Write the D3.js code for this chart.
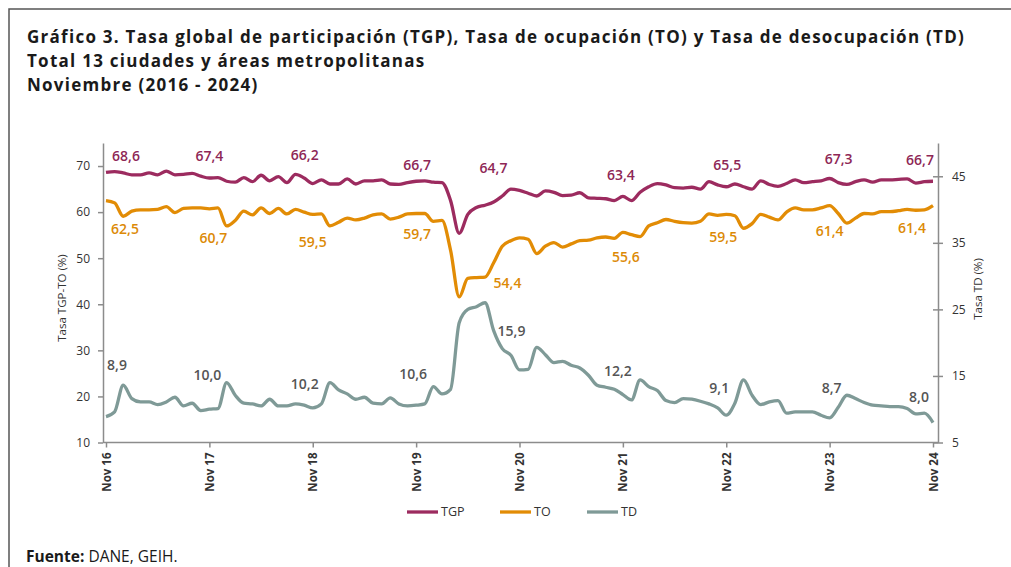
<!DOCTYPE html>
<html>
<head>
<meta charset="utf-8">
<script src="https://cdn.jsdelivr.net/npm/d3@7"></script>
<style>
  body { margin: 0; background: #fff; }
  text { font-family: "Open Sans", "Noto Sans", sans-serif; }
</style>
</head>
<body>
<div id="chart"></div>
<script>
// Series values, monthly from Nov 2016 to Nov 2024 (97 points)
var tgp = [68.6, 68.8, 68.5, 68.1, 68.1, 68.5, 68.1, 68.9, 68.1, 68.2, 68.4, 67.8,
  67.4, 67.5, 66.7, 66.5, 67.5, 66.6, 68.0, 66.8, 67.7, 66.4, 68.2, 67.4,
  66.2, 67.0, 66.1, 66.1, 67.2, 66.1, 66.8, 66.8, 67.0, 66.1, 66.0, 66.4,
  66.7, 66.8, 66.5, 66.4, 62.5, 55.4, 59.5, 61.0, 61.5, 62.2, 63.5, 65.0,
  64.7, 64.1, 63.5, 64.6, 64.3, 63.6, 63.7, 64.2, 63.1, 63.0, 62.9, 62.5,
  63.4, 62.5, 64.3, 65.5, 66.2, 65.9, 65.3, 65.2, 65.4, 65.0, 66.6, 65.9,
  65.5, 66.1, 65.5, 65.0, 66.8, 66.0, 65.6, 66.2, 67.0, 66.4, 66.6, 66.8,
  67.3, 66.4, 66.0, 66.6, 67.0, 66.5, 67.0, 67.0, 67.1, 67.2, 66.3, 66.6, 66.7];

var to = [62.5, 62.0, 59.1, 60.2, 60.5, 60.5, 60.6, 61.2, 59.9, 60.8, 60.9, 60.9,
  60.7, 60.9, 57.0, 58.2, 60.2, 59.4, 60.9, 59.7, 60.8, 59.6, 60.6, 60.0,
  59.5, 59.6, 57.0, 57.8, 58.7, 58.3, 58.7, 59.4, 59.6, 58.5, 58.9, 59.6,
  59.7, 59.7, 58.0, 58.2, 51.7, 41.6, 45.6, 45.8, 45.9, 49.0, 52.6, 53.8,
  54.4, 54.1, 51.0, 52.6, 53.4, 52.4, 53.1, 53.8, 53.9, 54.4, 54.6, 54.3,
  55.6, 55.1, 54.7, 57.0, 57.7, 58.4, 58.0, 57.7, 57.6, 58.0, 59.6, 59.3,
  59.5, 59.2, 56.5, 57.5, 59.5, 58.9, 58.3, 60.0, 60.9, 60.5, 60.5, 60.9,
  61.4, 59.7, 57.6, 58.7, 59.7, 59.6, 60.1, 60.1, 60.3, 60.6, 60.4, 60.5, 61.4];

var td = [8.9, 9.6, 13.6, 11.6, 11.1, 11.1, 10.7, 11.1, 11.8, 10.5, 10.9, 9.8,
  10.0, 10.1, 14.0, 12.1, 10.9, 10.8, 10.5, 11.5, 10.5, 10.5, 10.8, 10.6,
  10.2, 10.8, 14.0, 12.9, 12.3, 11.5, 11.8, 10.9, 10.8, 11.7, 10.8, 10.5,
  10.6, 10.8, 13.4, 12.3, 13.0, 23.0, 25.0, 25.4, 26.0, 21.8, 19.1, 18.1,
  15.9, 16.0, 19.3, 18.2, 17.0, 17.2, 16.6, 16.2, 15.1, 13.6, 13.3, 13.0,
  12.2, 11.4, 14.4, 13.4, 12.8, 11.3, 11.0, 11.6, 11.5, 11.2, 10.8, 10.2,
  9.1, 10.9, 14.4, 12.1, 10.7, 11.1, 11.3, 9.4, 9.6, 9.6, 9.6, 9.1,
  8.7, 10.3, 12.1, 11.6, 11.0, 10.6, 10.5, 10.4, 10.4, 10.1, 9.3, 9.4, 8.0];

// x tick labels (one every 12 months) and the months that carry a data label
var tickLabels = ["Nov 16", "Nov 17", "Nov 18", "Nov 19", "Nov 20", "Nov 21", "Nov 22", "Nov 23", "Nov 24"];
var labelMonths = [0, 12, 24, 36, 48, 60, 72, 84, 96];
var leftTicks = [10, 20, 30, 40, 50, 60, 70];
var rightTicks = [5, 15, 25, 35, 45];

// label offsets from their point (dx, dy)
var tgpOffsets = [[20, -16], [0, -22], [-8, -28], [1, -16], [-26, -22], [-2, -21], [1, -22], [9, -19], [-13, -21]];
var toOffsets = [[19, 29], [4, 29], [0, 28], [1, 21], [-12, 45], [3, 25], [-3, 23], [0, 25], [-21, 22]];
var tdOffsets = [[11, -51], [-2, -34], [-8, -24], [-3, -31], [-8, -39], [-5, -23], [-7, -27], [2, -30], [-14, -25]];

var svgWidth = 1011;
var svgHeight = 567;

var colTGP = "#9c2b5f";
var colTO = "#e28c05";
var colTD = "#7f9a97";
var axisCol = "#8c8c8c";

var svg = d3.select("#chart")
  .append("svg")
  .attr("width", svgWidth)
  .attr("height", svgHeight);

svg.append("rect")
  .attr("width", svgWidth)
  .attr("height", svgHeight)
  .attr("fill", "#fff");

// frame (top and left edges)
svg.append("path")
  .attr("d", "M9,567 V9 H1011")
  .attr("fill", "none")
  .attr("stroke", "#555")
  .attr("stroke-width", 1.5);

// title
var titleLines = ["Gráfico 3. Tasa global de participación (TGP), Tasa de ocupación (TO) y Tasa de desocupación (TD)",
  "Total 13 ciudades y áreas metropolitanas",
  "Noviembre (2016 - 2024)"];

var title = svg.append("g");
titleLines.forEach(function(t, i) {
  title.append("text")
    .attr("x", 27)
    .attr("y", 43 + i * 24)
    .attr("font-size", 17)
    .attr("font-weight", 700)
    .attr("fill", "#1a1a1a")
    .text(t);
});
// fit first line to its width in the picture with a little letter spacing
var firstLen = title.select("text").node().getComputedTextLength();
var spacing = (938 - firstLen) / titleLines[0].length;
title.selectAll("text").attr("letter-spacing", spacing);

// scales
var x = d3.scaleLinear().domain([0, 96]).range([106, 933]);
var yLeft = d3.scaleLinear().domain([10, 75]).range([442.5, 143]);
var yRight = d3.scaleLinear().domain([5, 50]).range([442.5, 143]);

// axes
var leftAxis = svg.append("g")
  .attr("transform", "translate(103,0)")
  .call(d3.axisLeft(yLeft).tickValues(leftTicks).tickSize(5).tickPadding(8).tickSizeOuter(0));

var rightAxis = svg.append("g")
  .attr("transform", "translate(938,0)")
  .call(d3.axisRight(yRight).tickValues(rightTicks).tickSize(5).tickPadding(9).tickSizeOuter(0));
rightAxis.selectAll(".tick line").attr("x1", -5);

var xAxis = svg.append("g")
  .attr("transform", "translate(0,442.5)")
  .call(d3.axisBottom(x).tickValues(labelMonths).tickSize(5).tickFormat(function(d, i) { return tickLabels[i]; }));
xAxis.select(".domain").remove();
xAxis.append("line")
  .attr("x1", 103).attr("x2", 938)
  .attr("stroke", axisCol).attr("stroke-width", 1.5);
xAxis.selectAll("text")
  .attr("transform", "rotate(-90)")
  .attr("x", -10)
  .attr("y", 0)
  .attr("dy", "0.35em")
  .attr("text-anchor", "end")
  .attr("font-weight", 700)
  .attr("font-size", 11.5);

[leftAxis, rightAxis, xAxis].forEach(function(a) {
  a.selectAll(".domain, line").attr("stroke", axisCol).attr("stroke-width", 1.5);
  a.selectAll("text").attr("fill", "#333").style("font-family", "'Open Sans', sans-serif");
});
leftAxis.selectAll("text").attr("font-size", 12);
rightAxis.selectAll("text").attr("font-size", 12);

// axis titles
svg.append("text")
  .attr("transform", "translate(66,298) rotate(-90)")
  .attr("text-anchor", "middle")
  .attr("font-size", 11.5)
  .attr("fill", "#333")
  .text("Tasa TGP-TO (%)");

svg.append("text")
  .attr("transform", "translate(982,289) rotate(-90)")
  .attr("text-anchor", "middle")
  .attr("font-size", 11.5)
  .attr("fill", "#333")
  .text("Tasa TD (%)");

// lines
var series = [
  { values: tgp, scale: yLeft, color: colTGP, labelColor: "#8e2756", offsets: tgpOffsets },
  { values: to, scale: yLeft, color: colTO, labelColor: "#dc8a06", offsets: toOffsets },
  { values: td, scale: yRight, color: colTD, labelColor: "#555", offsets: tdOffsets }
];

series.forEach(function(s) {
  var line = d3.line()
    .x(function(d, i) { return x(i); })
    .y(function(d) { return s.scale(d); })
    .curve(d3.curveMonotoneX);

  svg.append("path")
    .datum(s.values)
    .attr("fill", "none")
    .attr("stroke", s.color)
    .attr("stroke-width", 3.3)
    .attr("stroke-linejoin", "round")
    .attr("d", line);

  // data labels
  svg.append("g")
    .selectAll("text")
    .data(labelMonths)
    .enter()
    .append("text")
    .attr("x", function(m, j) { return x(m) + s.offsets[j][0]; })
    .attr("y", function(m, j) { return s.scale(s.values[m]) + s.offsets[j][1]; })
    .attr("dy", "0.35em")
    .attr("text-anchor", "middle")
    .attr("font-size", 14)
    .attr("font-weight", 600)
    .attr("fill", s.labelColor)
    .text(function(m) { return d3.format(".1f")(s.values[m]).replace(".", ","); });
});

// legend
var legendItems = [["TGP", colTGP, 407], ["TO", colTO, 500], ["TD", colTD, 587]];
var legend = svg.append("g");
legendItems.forEach(function(l) {
  legend.append("line")
    .attr("x1", l[2]).attr("x2", l[2] + 31)
    .attr("y1", 512).attr("y2", 512)
    .attr("stroke", l[1])
    .attr("stroke-width", 3.3);
  legend.append("text")
    .attr("x", l[2] + 34)
    .attr("y", 512)
    .attr("dy", "0.35em")
    .attr("font-size", 12.5)
    .attr("fill", "#333")
    .text(l[0]);
});

// source
var fuente = svg.append("text")
  .attr("x", 26)
  .attr("y", 562)
  .attr("font-size", 15.5)
  .attr("fill", "#1a1a1a");
fuente.append("tspan").attr("font-weight", 700).text("Fuente:");
fuente.append("tspan").text(" DANE, GEIH.");
</script>
</body>
</html>
